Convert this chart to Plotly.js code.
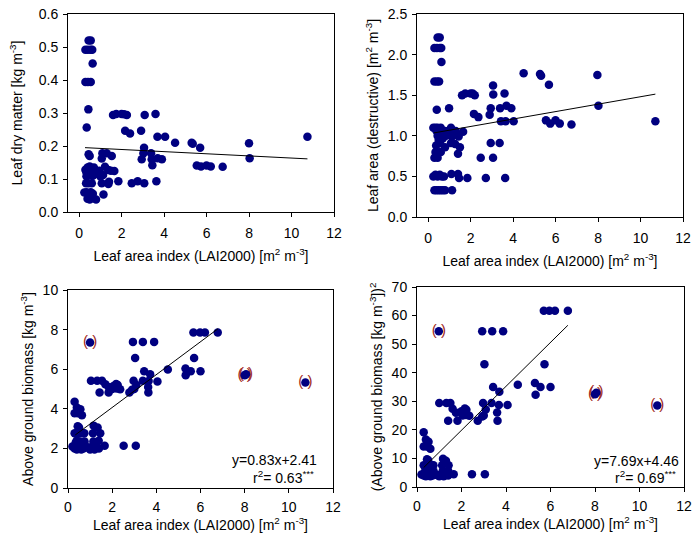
<!DOCTYPE html>
<html><head><meta charset="utf-8">
<script src="https://cdn.plot.ly/plotly-3.0.1.min.js"></script>
<style>html,body{margin:0;padding:0;background:#fff}#chart{width:698px;height:533px}</style>
</head><body><div id="chart"></div>
<script>
// Panel 1: leaf dry matter vs LAI2000
const p1x = [0.45,0.55,0.3,0.42,0.55,0.62,0.64,0.3,0.42,0.55,0.44,0.36,0.45,0.5,
  1.6,1.75,2.0,2.12,2.25,2.17,2.4,2.92,3.09,3.6,3.69,4.05,4.52,5.3,5.35,5.7,5.54,5.74,6.0,6.2,6.76,8.0,8.03,10.75,
  3.06,3.03,2.95,3.39,3.42,3.45,3.7,3.9,3.07,3.64,2.76,2.48,1.85,
  1.41,1.38,1.15,1.1,1.3,1.54,1.07,1.22,1.38,1.5,1.66,1.07,1.13,
  0.33,0.45,0.6,0.25,0.35,0.45,0.55,0.65,0.4,0.5,0.58,0.8,
  0.3,0.35,0.4,0.45,0.5,0.55,0.6,0.65,0.7,0.75,0.8,0.9,0.95,1.0,0.35,0.5,0.4];
const p1y = [0.52,0.52,0.492,0.492,0.492,0.492,0.45,0.394,0.394,0.394,0.311,0.256,0.175,0.17,
  0.294,0.297,0.297,0.296,0.294,0.246,0.238,0.246,0.294,0.297,0.228,0.228,0.21,0.21,0.207,0.195,0.141,0.138,0.141,0.138,0.137,0.208,0.163,0.228,
  0.195,0.178,0.16,0.178,0.16,0.142,0.163,0.16,0.087,0.093,0.093,0.087,0.093,
  0.092,0.085,0.053,0.178,0.178,0.17,0.162,0.137,0.127,0.125,0.124,0.087,0.112,
  0.087,0.087,0.087,0.059,0.06,0.055,0.06,0.055,0.04,0.038,0.042,0.038,
  0.128,0.12,0.135,0.125,0.115,0.13,0.12,0.11,0.135,0.125,0.12,0.115,0.125,0.108,0.108,0.138,0.112];
const p1fitX = [0.28, 10.75];
const p1fitY = [0.195, 0.161];

// Panel 2: leaf area (destructive) vs LAI2000
const p2x = [0.45,0.55,0.3,0.42,0.55,0.62,0.63,0.3,0.42,0.52,0.41,0.99,
  1.6,1.75,2.0,2.1,2.2,2.16,2.37,2.9,2.95,3.06,3.07,3.6,3.39,3.69,3.92,3.43,3.65,4.03,4.5,5.27,5.32,5.69,5.55,5.75,6.0,6.2,6.75,7.97,8.02,10.7,
  2.95,3.37,2.48,3.06,1.85,2.72,3.63,1.1,1.41,1.46,1.13,
  0.3,0.4,0.5,0.6,0.7,0.8,0.25,0.35,0.45,0.55,0.65,0.75,
  0.3,0.45,0.35,0.6,0.38,0.57,1.08,1.27,1.5,0.8,1.41,
  0.25,0.35,0.45,0.6,1.08,0.4,0.6,0.8,0.95,1.3,1.65,0.45,0.6,0.85,1.13,1.44,0.5,0.7];
const p2y = [2.21,2.21,2.08,2.08,2.08,2.08,1.91,1.67,1.67,1.67,1.32,1.34,
  1.5,1.52,1.52,1.52,1.5,1.27,1.23,1.26,1.34,1.62,1.51,1.52,1.34,1.37,1.34,1.18,1.18,1.18,1.77,1.76,1.74,1.63,1.19,1.15,1.19,1.15,1.14,1.75,1.37,1.18,
  0.91,0.91,0.73,0.73,0.48,0.48,0.48,0.53,0.53,0.48,0.33,
  0.33,0.33,0.33,0.33,0.33,0.33,0.5,0.52,0.5,0.52,0.5,0.5,
  0.73,0.73,0.8,0.8,0.88,0.91,0.91,0.9,0.86,0.86,0.78,
  1.1,1.1,1.1,1.1,1.1,1.06,1.06,1.06,1.06,1.06,1.05,1.0,1.0,1.0,0.99,0.99,0.95,0.97];
const p2fitX = [0.28, 10.7];
const p2fitY = [1.036, 1.513];

// Panel 3: above ground biomass vs LAI2000
const p3x = [2.94,3.39,3.9,5.68,5.98,6.2,6.78,3.04,5.71,4.52,5.32,5.33,5.56,6.0,
  3.45,3.72,4.05,3.65,3.63,3.64,3.39,2.97,3.0,3.1,2.9,2.78,
  1.04,1.32,1.54,1.43,1.84,1.69,1.84,2.06,2.18,2.25,2.36,2.0,2.2,
  0.3,0.4,0.56,0.3,0.45,0.63,0.44,0.5,1.16,1.34,
  0.3,0.5,0.68,0.74,1.13,1.46,1.39,2.52,3.07,1.66,
  0.2,0.3,0.35,0.4,0.45,0.5,0.55,0.6,0.65,0.7,0.8,0.9,1.0,1.1,1.2,1.3,1.15,0.4,0.75,1.4];
const p3y = [7.38,7.38,7.38,7.85,7.85,7.85,7.85,6.57,6.57,5.98,6.03,5.7,5.9,5.9,
  5.9,5.75,5.38,5.4,5.1,4.82,5.42,5.42,5.0,5.2,4.96,4.82,
  5.42,5.42,5.42,4.82,4.82,5.24,5.1,5.15,5.25,5.2,4.99,5.0,5.02,
  4.36,4.07,3.98,3.78,3.78,3.68,3.12,3.06,3.15,3.06,
  2.76,2.76,2.76,2.76,2.76,2.76,2.39,2.13,2.13,2.13,
  2.1,2.0,2.3,1.95,2.2,2.05,2.35,1.95,2.15,2.0,2.1,2.05,1.95,2.1,1.95,2.1,2.35,2.4,2.35,2.0];
const p3outX = [1.0, 8.0, 8.06, 10.75];
const p3outY = [7.35, 5.7, 5.75, 5.33];
const p3fitX = [0.33, 6.8];
const p3fitY = [2.68, 8.05];
const p3eq = ["y=0.83x+2.41", "r<sup>2</sup>= 0.63<sup>***</sup>"];

// Panel 4: (above ground biomass)^2 vs LAI2000
const p4x = [2.93,3.38,3.87,5.7,5.95,6.2,6.78,3.03,5.73,4.53,5.3,5.33,5.55,6.0,
  3.42,3.7,4.07,3.68,3.6,3.62,3.35,2.97,3.09,2.93,2.73,3.0,
  1.0,1.32,1.5,1.4,1.82,1.6,1.75,2.0,2.15,2.22,2.35,2.05,2.2,
  0.3,0.4,0.52,0.3,0.45,0.6,0.45,0.5,1.17,1.3,
  0.3,0.5,0.68,0.74,1.13,1.42,1.4,2.47,3.05,1.65,
  0.2,0.3,0.35,0.4,0.45,0.5,0.55,0.6,0.65,0.7,0.8,0.9,1.0,1.1,1.2,1.3,1.15,0.4,0.75,1.4];
const p4y = [54.5,54.5,54.5,61.7,61.7,61.7,61.7,43.0,43.0,35.8,36.4,32.3,35.0,35.0,
  35.0,33.3,28.7,28.7,26.1,23.2,29.4,29.4,27.1,24.7,23.2,25.0,
  29.4,29.4,29.4,23.2,23.2,27.4,26.0,26.5,27.5,27.0,24.9,25.0,25.2,
  19.2,16.6,15.8,14.2,14.2,13.4,9.7,9.4,9.9,9.2,
  7.6,7.6,7.6,7.6,7.6,7.6,5.7,4.5,4.5,4.5,
  4.4,4.0,5.3,3.8,4.8,4.2,5.5,3.8,4.6,4.0,4.4,4.2,3.8,4.4,3.8,4.4,5.5,5.8,5.5,4.0];
const p4outX = [0.98, 8.0, 8.06, 10.8];
const p4outY = [54.5, 32.5, 33.0, 28.5];
const p4fitX = [0.3, 6.78];
const p4fitY = [6.8, 56.6];
const p4eq = ["y=7.69x+4.46", "r<sup>2</sup>= 0.69<sup>***</sup>"];

const xTitle = "Leaf area index (LAI2000) [m<sup>2</sup> m<sup>-3</sup>]";
const yTitles = ["Leaf dry matter [kg m<sup>-3</sup>]",
  "Leaf area (destructive) [m<sup>2</sup> m<sup>-3</sup>]",
  "Above ground biomass [kg m<sup>-3</sup>]",
  "(Above ground biomass [kg m<sup>-3</sup>])<sup>2</sup>"];

const NAVY = '#000080';
const PAREN = '#A02A22';
const FONT = '"Liberation Sans", Arial, sans-serif';

function pts(x, y, n) {
  return {x: x, y: y, xaxis: 'x' + (n === 1 ? '' : n), yaxis: 'y' + (n === 1 ? '' : n),
    type: 'scatter', mode: 'markers', marker: {color: NAVY, size: 8.5, line: {width: 0}},
    hoverinfo: 'skip', showlegend: false};
}
function fit(x, y, n) {
  return {x: x, y: y, xaxis: 'x' + (n === 1 ? '' : n), yaxis: 'y' + (n === 1 ? '' : n),
    type: 'scatter', mode: 'lines', line: {color: '#000', width: 1},
    hoverinfo: 'skip', showlegend: false};
}
function parens(x, y, n) {
  return {x: x, y: y, xaxis: 'x' + n, yaxis: 'y' + n, type: 'scatter', mode: 'text',
    text: x.map(() => '( )'), textposition: 'middle center',
    textfont: {color: PAREN, size: 15, family: FONT}, hoverinfo: 'skip', showlegend: false};
}

const data = [
  pts(p1x, p1y, 1), fit(p1fitX, p1fitY, 1),
  pts(p2x, p2y, 2), fit(p2fitX, p2fitY, 2),
  parens(p3outX, p3outY, 3), pts(p3x.concat(p3outX), p3y.concat(p3outY), 3), fit(p3fitX, p3fitY, 3),
  parens(p4outX, p4outY, 4), pts(p4x.concat(p4outX), p4y.concat(p4outY), 4), fit(p4fitX, p4fitY, 4)
];

const W = 698, H = 533;
function xd(a, b) { return [a / W, b / W]; }
function yd(top, bot) { return [1 - bot / H, 1 - top / H]; }

function xax(dom, range, anchor, lblOff, stand) {
  return {domain: dom, range: range, anchor: anchor, dtick: 2, tick0: 0,
    ticks: 'outside', ticklen: 4, tickcolor: '#000', showline: true, linecolor: '#000', linewidth: 1,
    mirror: true, showgrid: false, zeroline: false, automargin: false, ticklabelstandoff: lblOff,
    tickfont: {size: 14, color: '#000', family: FONT},
    title: {text: xTitle, font: {size: 14, color: '#000', family: FONT}, standoff: stand}};
}
function yax(dom, range, dtick, fmt, anchor, title, stand) {
  return {domain: dom, range: range, anchor: anchor, dtick: dtick, tick0: 0, tickformat: fmt,
    ticks: 'outside', ticklen: 4, tickcolor: '#000', showline: true, linecolor: '#000', linewidth: 1,
    mirror: true, showgrid: false, zeroline: false, automargin: false, ticklabelstandoff: 2,
    tickfont: {size: 14, color: '#000', family: FONT},
    title: {text: title, font: {size: 14, color: '#000', family: FONT}, standoff: stand}};
}

const annFont = {size: 14, color: '#000', family: FONT};
const layout = {
  width: W, height: H, margin: {l: 0, r: 0, t: 0, b: 0},
  paper_bgcolor: '#fff', plot_bgcolor: '#fff', showlegend: false,
  font: {family: FONT},
  xaxis: xax(xd(68, 334), [-0.52, 12], 'y', 4, 11),
  yaxis: yax(yd(14, 212), [0, 0.6], 0.1, '.1f', 'x', yTitles[0], 12),
  xaxis2: xax(xd(417, 683), [-0.52, 12], 'y2', 4, 11),
  yaxis2: yax(yd(14, 217), [0, 2.5], 0.5, '.1f', 'x2', yTitles[1], 5),
  xaxis3: xax(xd(68, 333), [0, 12], 'y3', 2, 4),
  yaxis3: yax(yd(290, 488), [0, 10], 2, 'd', 'x3', yTitles[2], 5),
  xaxis4: xax(xd(417, 684), [0, 12], 'y4', 2, 4),
  yaxis4: yax(yd(287, 487), [0, 70], 10, 'd', 'x4', yTitles[3], 5),
  annotations: [
    {xref: 'paper', yref: 'paper', x: 319 / W, y: 1 - 460 / H, xanchor: 'right', yanchor: 'middle',
      text: p3eq[0], showarrow: false, font: annFont},
    {xref: 'paper', yref: 'paper', x: 316 / W, y: 1 - 477 / H, xanchor: 'right', yanchor: 'middle',
      text: p3eq[1], showarrow: false, font: annFont},
    {xref: 'paper', yref: 'paper', x: 681 / W, y: 1 - 461 / H, xanchor: 'right', yanchor: 'middle',
      text: p4eq[0], showarrow: false, font: annFont},
    {xref: 'paper', yref: 'paper', x: 678 / W, y: 1 - 477 / H, xanchor: 'right', yanchor: 'middle',
      text: p4eq[1], showarrow: false, font: annFont}
  ]
};

Plotly.newPlot('chart', data, layout, {staticPlot: true, displayModeBar: false});
</script>
</body></html>
